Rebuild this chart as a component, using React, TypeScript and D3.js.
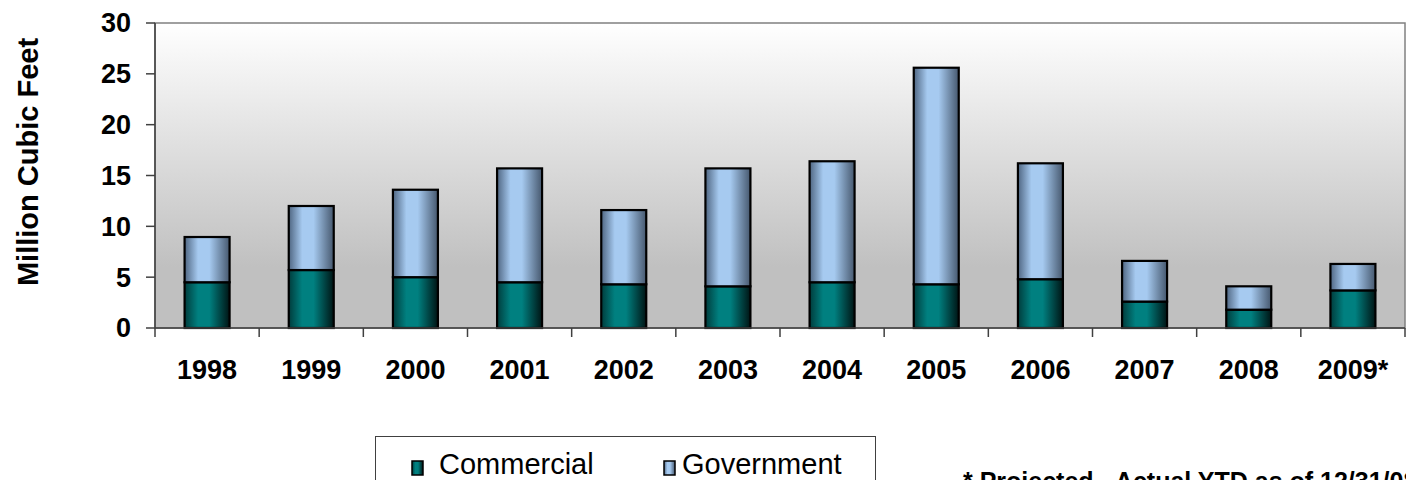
import React from "react";
import * as d3 from "d3";

const years = ["1998", "1999", "2000", "2001", "2002", "2003", "2004", "2005", "2006", "2007", "2008", "2009*"];
const commercial = [4.5, 5.7, 5.0, 4.5, 4.3, 4.1, 4.5, 4.3, 4.8, 2.6, 1.8, 3.7];
const government = [4.45, 6.3, 8.6, 11.2, 7.3, 11.6, 11.9, 21.3, 11.4, 4.0, 2.3, 2.6];
const yTicks = [0, 5, 10, 15, 20, 25, 30];
const seriesNames = ["Commercial", "Government"];
const yTitle = "Million Cubic Feet";
const footnote = "* Projected - Actual YTD as of 12/31/08";

const W = 1406;
const H = 480;
const FONT = "'Liberation Sans', Arial, sans-serif";

export default function App() {
  const left = 155, right = 1405, top = 23, bottom = 328;
  const x = d3.scaleBand<string>().domain(years).range([left, right]).paddingInner(0.568).paddingOuter(0.284);
  const y = d3.scaleLinear().domain([0, 30]).range([bottom, top]);
  const step = x.step();
  const boundaries = d3.range(years.length + 1).map((i) => left + i * step);

  const rows = years.map((yr, i) => ({ year: yr, Commercial: commercial[i], Government: government[i] }));
  const stack = d3.stack<any>().keys(seriesNames)(rows);
  const fills = ["url(#gComm)", "url(#gGov)"];

  return (
    <svg width={W} height={H} style={{ position: "absolute", left: 0, top: 0, display: "block", background: "#fff" }} fontFamily={FONT}>
      <defs>
        <linearGradient id="bg" x1="0" y1="0" x2="0" y2="1">
          <stop offset="0" stopColor="#ffffff" />
          <stop offset="0.8" stopColor="#c0c0c0" />
          <stop offset="1" stopColor="#c0c0c0" />
        </linearGradient>
        <linearGradient id="gComm" x1="0" y1="0" x2="1" y2="0">
          <stop offset="0" stopColor="#003c3c" />
          <stop offset="0.3" stopColor="#008080" />
          <stop offset="0.55" stopColor="#008080" />
          <stop offset="1" stopColor="#001414" />
        </linearGradient>
        <linearGradient id="gGov" x1="0" y1="0" x2="1" y2="0">
          <stop offset="0" stopColor="#4f6682" />
          <stop offset="0.3" stopColor="#a6caf0" />
          <stop offset="0.55" stopColor="#a6caf0" />
          <stop offset="1" stopColor="#46586e" />
        </linearGradient>
      </defs>
      <rect x={left} y={top} width={right - left} height={bottom - top} fill="url(#bg)" stroke="#808080" strokeWidth={1.5} />
      {stack.map((s, si) =>
        s.map((d, i) => (
          <rect
            key={si + "-" + i}
            x={x(years[i])}
            y={y(d[1])}
            width={x.bandwidth()}
            height={y(d[0]) - y(d[1])}
            fill={fills[si]}
            stroke="#000"
            strokeWidth={2.2}
          />
        ))
      )}
      <line x1={left} x2={left} y1={top} y2={bottom} stroke="#404040" strokeWidth={1.5} />
      <line x1={left} x2={right} y1={bottom} y2={bottom} stroke="#404040" strokeWidth={1.5} />
      {yTicks.map((t) => (
        <g key={t}>
          <line x1={left - 9} x2={left} y1={y(t)} y2={y(t)} stroke="#404040" strokeWidth={1.5} />
          <text x={131} y={y(t)} dy="0.35em" textAnchor="end" fontWeight="bold" fontSize={27} fill="#000">
            {t}
          </text>
        </g>
      ))}
      {boundaries.map((bx, i) => (
        <line key={i} x1={bx} x2={bx} y1={bottom} y2={bottom + 9} stroke="#404040" strokeWidth={1.5} />
      ))}
      {years.map((yr) => (
        <text key={yr} x={(x(yr) as number) + x.bandwidth() / 2} y={379} textAnchor="middle" fontWeight="bold" fontSize={27} fill="#000">
          {yr}
        </text>
      ))}
      <text transform={`translate(38,162) rotate(-90)`} textAnchor="middle" fontWeight="bold" fontSize={29} fill="#000">
        {yTitle}
      </text>
      <rect x={375.5} y={436.5} width={500} height={70} fill="#fff" stroke="#404040" strokeWidth={1} />
      <rect x={412} y={461} width={11} height={14} fill="url(#gComm)" stroke="#000" strokeWidth={1.5} />
      <text x={439} y={474} fontSize={29} fill="#000">{seriesNames[0]}</text>
      <rect x={664} y={461} width={11} height={14} fill="url(#gGov)" stroke="#000" strokeWidth={1.5} />
      <text x={682} y={474} fontSize={29} fill="#000">{seriesNames[1]}</text>
      <text x={963} y={490} fontWeight="bold" fontSize={25} fill="#000">{footnote}</text>
    </svg>
  );
}
